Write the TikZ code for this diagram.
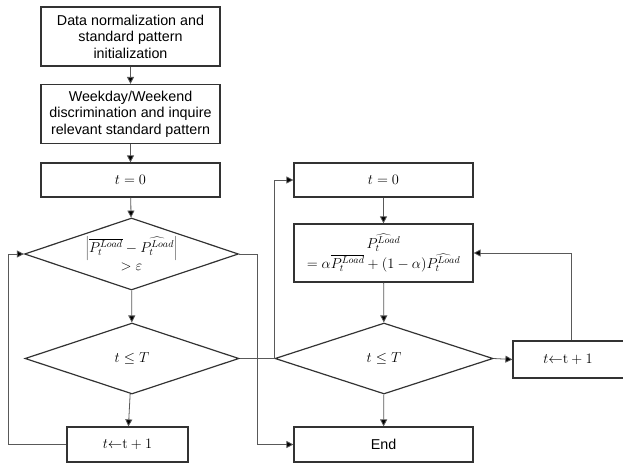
\documentclass[tikz,border=0pt]{standalone}
\usepackage[no-math]{fontspec}
\setmainfont{Liberation Sans}
\usetikzlibrary{shapes.geometric,arrows.meta}
\begin{document}
\begin{tikzpicture}[x=1pt,y=-1pt,
  every node/.style={font=\fontsize{14.3}{16.5}\selectfont, align=center, inner sep=0pt},
  pbox/.style={draw=black!80, line width=1.2pt, minimum width=#1},
  pbox/.default=179pt,
  dia/.style={diamond, draw=black!80, line width=1.2pt, shape aspect=3, minimum width=#1, minimum height=71pt},
  dia/.default=214pt,
  conn/.style={draw=black!65, line width=0.8pt},
  arr/.style={conn, -{Triangle[length=7pt,width=7pt,fill=black]}}
]
\useasboundingbox (0,0) rectangle (623,465);
% left column
\node[pbox, minimum height=59pt] (b1) at (130.5,36.5) {Data normalization and\\standard pattern\\initialization};
\node[pbox, minimum height=59pt] (b2) at (130.5,114) {Weekday/Weekend\\discrimination and inquire\\relevant standard pattern};
\node[pbox, minimum height=34pt] (b3) at (130.5,180) {$t=0$};
\node[dia, minimum height=72pt] (d1) at (131.5,254) {$\left|\overline{P_t^{Load}}-\widehat{P_t^{Load}}\right|$\\[2pt]$>\varepsilon$};
\node[dia] (d2) at (132,358.5) {$t\leq T$};
\node[pbox=121pt, minimum height=35pt] (b4) at (127.5,444.5) {$t{\leftarrow}\mathrm{t}+1$};
% right column
\node[pbox, minimum height=34pt] (b5) at (383.5,180) {$t=0$};
\node[pbox, minimum height=58pt] (b6) at (383.5,253) {$\widehat{P_t^{Load}}$\\[1pt]$=\alpha\overline{P_t^{Load}}+(1-\alpha)\widehat{P_t^{Load}}$};
\node[dia=218pt] (d3) at (384,358.5) {$t\leq T$};
\node[pbox=116pt, minimum height=37pt] (b7) at (571,359.5) {\hspace*{-6pt}$t{\leftarrow}\mathrm{t}+1$};
\node[pbox, minimum height=35pt] (b8) at (383.5,444.5) {End};
% helper coordinates
\coordinate (cl) at (8,444.5);
\coordinate (cm) at (257,444.5);
% connectors
\draw[arr] (b1) -- (b2);
\draw[arr] (b2) -- (b3);
\draw[arr] (b3) -- (d1);
\draw[arr] (d1) -- (d2);
\draw[arr] (d2) -- (b4);
\draw[arr] (b4.west) -- (cl) |- (d1.west);
\draw[arr] (d1.east) -| (cm) -- (b8.west);
\draw[conn] (d2.east) -- (d3.west);
\draw[arr] (d3.west) |- (b5.west);
\draw[arr] (b5) -- (b6);
\draw[arr] (b6) -- (d3);
\draw[arr] (d3) -- (b8);
\draw[arr] (d3.east) -- (b7.west);
\draw[arr] (b7.north) |- (b6.east);
\end{tikzpicture}
\end{document}
